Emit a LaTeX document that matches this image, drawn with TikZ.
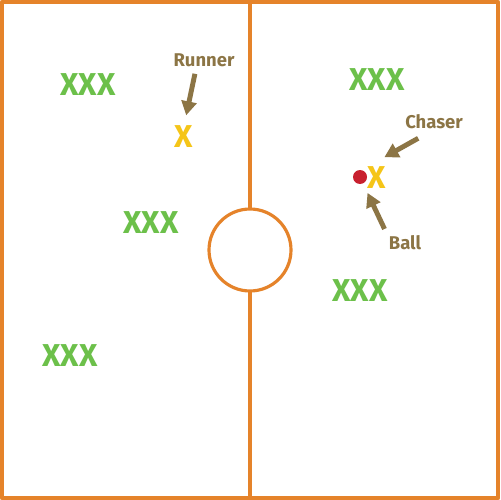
\documentclass[tikz,border=0pt]{standalone}
\usepackage{fontspec}
\setmainfont{Fira Sans}
\usetikzlibrary{arrows.meta}
\definecolor{pitch}{HTML}{E5832A}
\definecolor{team}{HTML}{6CC04A}
\definecolor{chase}{HTML}{F5C518}
\definecolor{note}{HTML}{8C7545}
\definecolor{ball}{HTML}{C8202F}
\tikzset{
  squad/.style={text=team, font=\bfseries\fontsize{18}{18}\selectfont, inner sep=0pt},
  player/.style={text=chase, font=\bfseries\fontsize{18}{18}\selectfont, inner sep=0pt},
  tag/.style={text=note, font=\bfseries\fontsize{10.5}{10.5}\selectfont, inner sep=1pt},
  pointer/.style={draw=note, line width=2.8pt, -{Triangle[width=8.5pt,length=8pt]}}
}
\begin{document}
\begin{tikzpicture}[x=0.02cm, y=-0.02cm, line join=round]
  \useasboundingbox (0,0) rectangle (500,500);
  % field
  \fill[white] (0,0) rectangle (500,500);
  \draw[pitch, line width=2.4pt] (2,2) rectangle (498,498);
  \draw[pitch, line width=1.8pt] (250,0) -- (250,500);
  \draw[pitch, line width=1.8pt, fill=white] (250,250) circle (41);

  % teams
  \node[squad] (a1) at (88,85) {XXX};
  \node[squad] (a2) at (151,223) {XXX};
  \node[squad] (a3) at (70,356) {XXX};
  \node[squad] (b1) at (377,80) {XXX};
  \node[squad] (b2) at (360,291) {XXX};

  % runner, chaser, ball
  \node[player] (runnerx) at (184,137) {X};
  \node[player] (chaserx) at (377,178) {X};
  \fill[ball] (360,177) circle (7);
  \coordinate (balldot) at (360,177);

  % labels
  \node[tag] (runner) at (204,60) {Runner};
  \node[tag] (chaser) at (434,122) {Chaser};
  \node[tag] (balltag) at (405,243) {Ball};

  \draw[pointer, shorten <=3pt, shorten >=6pt] (runner.south -| 196,0) -- (runnerx.north);
  \draw[pointer, shorten >=11pt] ([xshift=-9pt,yshift=-4pt]chaser.south) -- (chaserx.north west);
  \draw[pointer, shorten <=3pt, shorten >=10pt] (balltag.north west) -- (balldot);
\end{tikzpicture}
\end{document}
